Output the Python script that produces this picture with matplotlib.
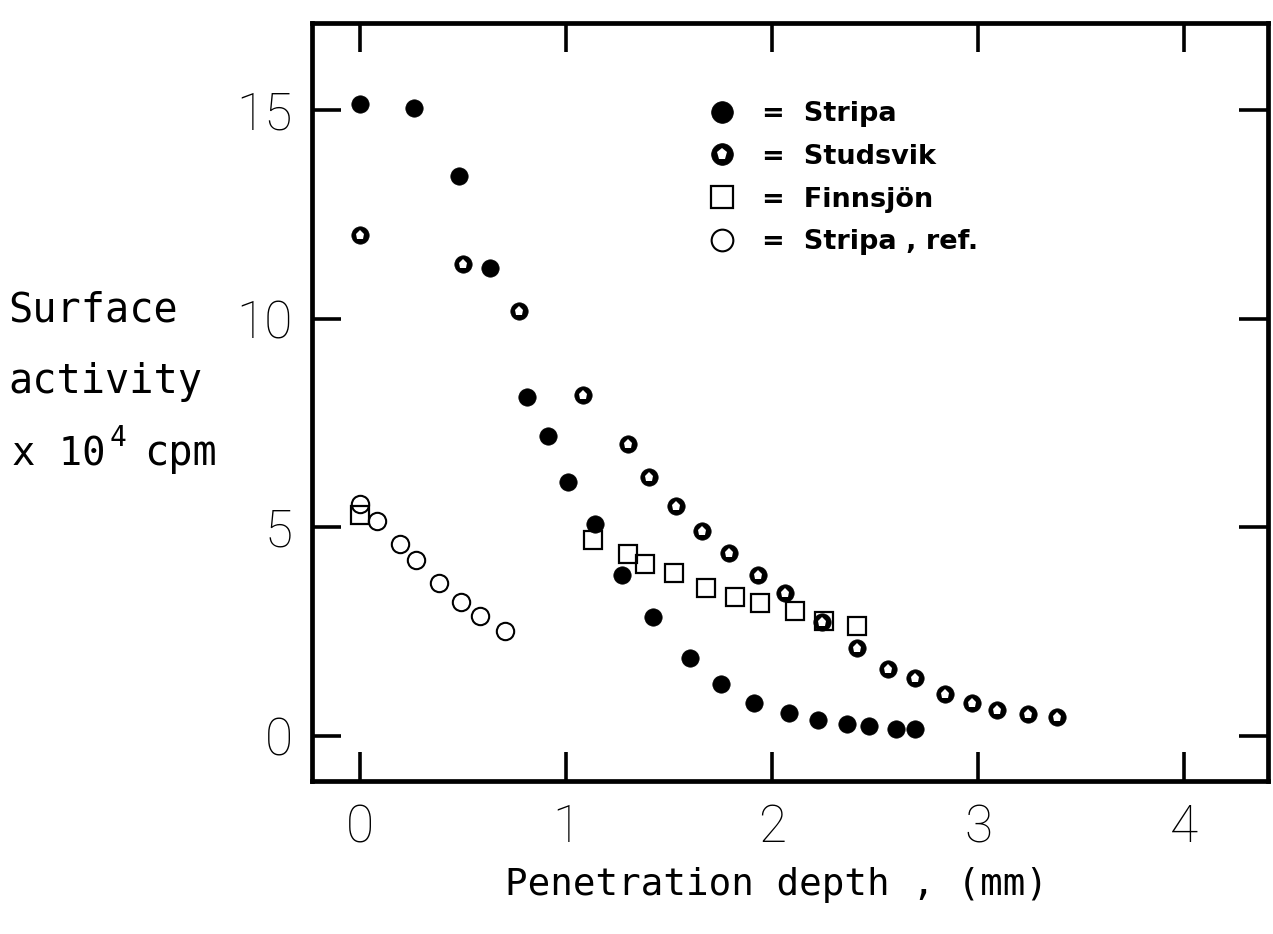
import matplotlib
matplotlib.use("Agg")
import matplotlib.pyplot as plt
from matplotlib.legend_handler import HandlerTuple

# ---- data ----
stripa_x = [0.00, 0.26, 0.48, 0.63, 0.81, 0.91, 1.01, 1.14, 1.27, 1.42, 1.60,
            1.75, 1.91, 2.08, 2.22, 2.36, 2.47, 2.60, 2.69]
stripa_y = [15.14, 15.05, 13.42, 11.21, 8.13, 7.19, 6.08, 5.08, 3.86, 2.84, 1.85,
            1.23, 0.77, 0.53, 0.38, 0.28, 0.23, 0.17, 0.16]

studsvik_x = [0.00, 0.50, 0.77, 1.08, 1.30, 1.40, 1.53, 1.66, 1.79, 1.93, 2.06,
              2.24, 2.41, 2.56, 2.69, 2.84, 2.97, 3.09, 3.24, 3.38]
studsvik_y = [12.00, 11.31, 10.19, 8.17, 7.00, 6.20, 5.50, 4.90, 4.39, 3.86, 3.41,
              2.72, 2.10, 1.60, 1.37, 1.00, 0.78, 0.62, 0.52, 0.44]

finnsjon_x = [0.00, 1.13, 1.30, 1.38, 1.52, 1.68, 1.82, 1.94, 2.11, 2.25, 2.41]
finnsjon_y = [5.28, 4.68, 4.36, 4.11, 3.89, 3.53, 3.32, 3.18, 3.00, 2.76, 2.62]

stripa_ref_x = [0.00, 0.08, 0.19, 0.27, 0.38, 0.49, 0.58, 0.70]
stripa_ref_y = [5.55, 5.14, 4.60, 4.22, 3.66, 3.20, 2.88, 2.52]

legend_labels = ["=  Stripa", "=  Studsvik", "=  Finnsjön", "=  Stripa , ref."]
x_ticks = [0, 1, 2, 3, 4]
x_tick_labels = ["0", "1", "2", "3", "4"]
y_ticks = [0, 5, 10, 15]
y_tick_labels = ["0", "5", "10", "15"]

W, H = 1273, 934
fig = plt.figure(figsize=(W / 100, H / 100), dpi=100)
fig.patch.set_facecolor("white")
ax = fig.add_axes([312 / W, 1 - 781 / H, (1268 - 312) / W, (781 - 23) / H])

ms = 12.5
h1, = ax.plot(stripa_x, stripa_y, ls="none", marker="o", ms=ms,
              mfc="black", mec="black", mew=0.5)
h2a, = ax.plot(studsvik_x, studsvik_y, ls="none", marker="o", ms=ms,
               mfc="black", mec="black", mew=0.5)
h2b, = ax.plot(studsvik_x, studsvik_y, ls="none", marker="p", ms=6.5,
               mfc="white", mec="white", mew=0)
h3, = ax.plot(finnsjon_x, finnsjon_y, ls="none", marker="s", ms=12.5,
              mfc="none", mec="black", mew=1.6)
h4, = ax.plot(stripa_ref_x, stripa_ref_y, ls="none", marker="o", ms=12.5,
              mfc="none", mec="black", mew=1.5)

ax.set_xlim(-0.235, 4.406)
ax.set_ylim(-1.089, 17.09)

tick_font = dict(fontsize=37, fontfamily="Roboto", fontweight="light")
ax.set_xticks(x_ticks, x_tick_labels, **tick_font)
ax.set_yticks(y_ticks, y_tick_labels, **tick_font)
ax.tick_params(axis="both", direction="in", length=21, width=2.6,
               top=True, right=True, color="black")
ax.tick_params(axis="x", pad=16)
ax.tick_params(axis="y", pad=14)
for s in ax.spines.values():
    s.set_linewidth(3.4)
    s.set_color("black")

ax.legend([h1, (h2a, h2b), h3, h4], legend_labels,
          handler_map={tuple: HandlerTuple(ndivide=1)},
          loc="upper left", bbox_to_anchor=(708 / W, 1 - 101 / H),
          bbox_transform=fig.transFigure, frameon=False, borderpad=0,
          borderaxespad=0, handlelength=1.05, handletextpad=0.95,
          labelspacing=0.62, numpoints=1, markerscale=1.25,
          prop={"family": "DejaVu Sans", "weight": "bold", "size": 19.5})

mono = dict(fontfamily="DejaVu Sans Mono", color="black")
fig.text(8 / W, 1 - 322 / H, "Surface", fontsize=29, va="baseline", ha="left", **mono)
fig.text(8 / W, 1 - 393 / H, "activity", fontsize=29, va="baseline", ha="left", **mono)
fig.text(12 / W, 1 - 465 / H, "x 10", fontsize=28, va="baseline", ha="left", **mono)
fig.text(110 / W, 1 - 446 / H, "4", fontsize=20, va="baseline", ha="left", **mono)
fig.text(144 / W, 1 - 465 / H, "cpm", fontsize=29, va="baseline", ha="left", **mono)
fig.text(505 / W, 1 - 895 / H, "Penetration depth , (mm)", fontsize=27,
         va="baseline", ha="left", **mono)

fig.savefig("out.png", dpi=100, facecolor="white")
